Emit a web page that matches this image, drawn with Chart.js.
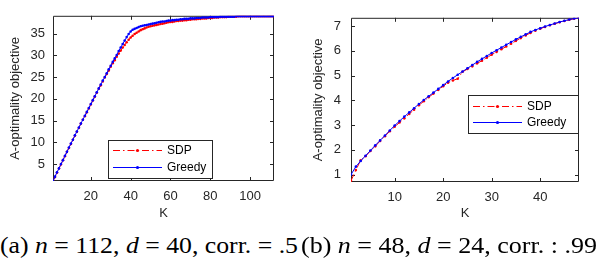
<!DOCTYPE html>
<html>
<head>
<meta charset="utf-8">
<script src="https://cdn.jsdelivr.net/npm/chart.js@4.4.0/dist/chart.umd.min.js"></script>
<style>
body { margin: 0; background: #fff; width: 598px; height: 262px; position: relative; overflow: hidden; }
.pane { position: absolute; top: 0; width: 300px; height: 225px; }
.cap { position: absolute; top: 232px; font-family: "Liberation Serif", "DejaVu Serif", serif; font-size: 24px; white-space: nowrap; color: #000; transform-origin: left top; }
</style>
</head>
<body>
<div class="pane" style="left:0"><canvas id="chartA" width="300" height="225"></canvas></div>
<div class="pane" style="left:298px"><canvas id="chartB" width="300" height="225"></canvas></div>
<div class="cap" id="capA" style="left:0">(a) <i>n</i> = 112, <i>d</i> = 40, corr. = .5</div>
<div class="cap" id="capB" style="left:301px">(b) <i>n</i> = 48, <i>d</i> = 24, corr. : .99</div>
<script>
// (a) n = 112, K = 1..112
const kA = Array.from({length: 112}, (_, i) => i + 1);
const sdpA = [
  1.1, 2.0, 3.0, 4.0, 4.9, 5.9, 6.8, 7.8, 8.7, 9.6,
  10.6, 11.5, 12.4, 13.3, 14.3, 15.2, 16.0, 16.9, 17.8, 18.7,
  19.6, 20.5, 21.4, 22.3, 23.1, 24.0, 24.9, 25.7, 26.5, 27.4,
  28.2, 28.9, 29.7, 30.4, 31.1, 31.8, 32.4, 33.0, 33.6, 34.1,
  34.5, 34.9, 35.2, 35.5, 35.8, 36.0, 36.2, 36.4, 36.6, 36.7,
  36.8, 36.9, 37.0, 37.1, 37.2, 37.3, 37.4, 37.5, 37.6, 37.7,
  37.7, 37.8, 37.9, 37.9, 38.0, 38.0, 38.1, 38.1, 38.2, 38.2,
  38.3, 38.3, 38.3, 38.4, 38.4, 38.5, 38.5, 38.5, 38.6, 38.6,
  38.6, 38.7, 38.7, 38.7, 38.8, 38.8, 38.8, 38.8, 38.9, 38.9,
  38.9, 38.9, 38.9, 39.0, 39.0, 39.0, 39.0, 39.0, 39.0, 39.0,
  39.0, 39.0, 39.0, 39.0, 39.0, 39.0, 39.0, 39.0, 39.0, 39.0,
  39.0, 39.0
];
const greedyA = [
  1.1, 2.1, 3.1, 4.0, 5.0, 5.9, 6.9, 7.8, 8.8, 9.7,
  10.6, 11.6, 12.5, 13.4, 14.3, 15.2, 16.1, 17.0, 17.9, 18.8,
  19.7, 20.6, 21.5, 22.4, 23.3, 24.2, 25.0, 25.9, 26.8, 27.6,
  28.5, 29.3, 30.1, 31.0, 31.8, 32.6, 33.4, 34.2, 34.9, 35.5,
  35.9, 36.1, 36.3, 36.5, 36.7, 36.8, 36.9, 37.0, 37.1, 37.2,
  37.3, 37.4, 37.5, 37.6, 37.7, 37.8, 37.8, 37.9, 38.0, 38.0,
  38.1, 38.1, 38.2, 38.2, 38.3, 38.3, 38.4, 38.4, 38.4, 38.5,
  38.5, 38.5, 38.6, 38.6, 38.6, 38.7, 38.7, 38.7, 38.7, 38.8,
  38.8, 38.8, 38.8, 38.8, 38.9, 38.9, 38.9, 38.9, 38.9, 38.9,
  38.9, 38.9, 39.0, 39.0, 39.0, 39.0, 39.0, 39.0, 39.0, 39.0,
  39.0, 39.0, 39.0, 39.0, 39.0, 39.0, 39.0, 39.0, 39.0, 39.0,
  39.0, 39.0
];
const xTicksA = [20, 40, 60, 80, 100];
const yTicksA = [5, 10, 15, 20, 25, 30, 35];

// (b) n = 48, K = 1..48
const kB = Array.from({length: 48}, (_, i) => i + 1);
const sdpB = [
  0.75, 1.18, 1.58, 1.74, 1.95, 2.14, 2.36, 2.55, 2.75, 2.93,
  3.10, 3.27, 3.45, 3.62, 3.80, 3.96, 4.12, 4.27, 4.42, 4.57,
  4.71, 4.80, 4.87, 5.15, 5.26, 5.37, 5.49, 5.60, 5.72, 5.84,
  5.95, 6.06, 6.17, 6.28, 6.40, 6.51, 6.62, 6.72, 6.81, 6.89,
  6.96, 7.03, 7.09, 7.15, 7.20, 7.25, 7.29, 7.33
];
const greedyB = [
  1.00, 1.32, 1.55, 1.76, 1.97, 2.18, 2.38, 2.58, 2.78, 2.98,
  3.16, 3.34, 3.51, 3.68, 3.85, 4.01, 4.16, 4.31, 4.46, 4.61,
  4.76, 4.90, 5.03, 5.16, 5.29, 5.42, 5.55, 5.67, 5.79, 5.91,
  6.02, 6.13, 6.24, 6.35, 6.46, 6.56, 6.66, 6.76, 6.84, 6.91,
  6.98, 7.04, 7.10, 7.16, 7.21, 7.26, 7.30, 7.33
];
const xTicksB = [10, 20, 30, 40];
const yTicksB = [1, 2, 3, 4, 5, 6, 7];

const seriesNames = ['SDP', 'Greedy'];
const AXIS = '#262626';
const SANS = '"Liberation Sans", Arial, sans-serif';

// box round the plot with inward ticks on all four sides
const boxPlugin = {
  id: 'mBox',
  beforeDatasetsDraw(chart) {
    const {ctx, chartArea: a, scales: {x, y}} = chart;
    ctx.save();
    ctx.strokeStyle = AXIS;
    ctx.lineWidth = 1;
    ctx.beginPath();
    ctx.rect(a.left + 0.5, a.top + 0.5, a.right - a.left - 1, a.bottom - a.top - 1);
    x.ticks.forEach(t => {
      const px = Math.round(x.getPixelForValue(t.value)) + 0.5;
      ctx.moveTo(px, a.bottom); ctx.lineTo(px, a.bottom - 4);
      ctx.moveTo(px, a.top); ctx.lineTo(px, a.top + 4);
    });
    y.ticks.forEach(t => {
      const py = Math.round(y.getPixelForValue(t.value)) + 0.5;
      ctx.moveTo(a.left, py); ctx.lineTo(a.left + 4, py);
      ctx.moveTo(a.right, py); ctx.lineTo(a.right - 4, py);
    });
    ctx.stroke();
    ctx.restore();
  }
};

// legend drawn inside the axes, MATLAB style
const legendPlugin = {
  id: 'insetLegend',
  afterDatasetsDraw(chart, args, opts) {
    const {ctx} = chart;
    const L = opts.left, T = opts.top;
    ctx.save();
    ctx.fillStyle = '#fff';
    ctx.fillRect(L, T, opts.width, opts.height);
    ctx.strokeStyle = AXIS;
    ctx.lineWidth = 1;
    ctx.strokeRect(L + 0.5, T + 0.5, opts.width, opts.height);
    const rows = [T + opts.row1, T + opts.row2];
    chart.data.datasets.forEach(ds => {
      const r = seriesNames.indexOf(ds.label);
      const yy = Math.round(rows[r]) + 0.5;
      ctx.strokeStyle = ds.borderColor;
      ctx.lineWidth = 1;
      ctx.setLineDash(ds.borderDash || []);
      ctx.beginPath();
      ctx.moveTo(L + 5, yy);
      ctx.lineTo(L + 54, yy);
      ctx.stroke();
      ctx.setLineDash([]);
      ctx.fillStyle = ds.borderColor;
      ctx.beginPath();
      ctx.arc(L + 29.5, yy, 1.6, 0, Math.PI * 2);
      ctx.fill();
      ctx.fillStyle = '#000';
      ctx.font = '12px ' + SANS;
      ctx.textBaseline = 'middle';
      ctx.fillText(ds.label, L + 59, yy);
    });
    ctx.restore();
  }
};

function makeChart(id, k, sdp, greedy, xTicks, yTicks, lim) {
  const ctx = document.getElementById(id).getContext('2d');
  return new Chart(ctx, {
    type: 'line',
    data: {
      datasets: [
        {
          label: 'SDP',
          data: k.map((v, i) => ({x: v, y: sdp[i]})),
          borderColor: '#ff0000',
          backgroundColor: '#ff0000',
          borderWidth: 1,
          borderDash: [7, 3, 1.5, 3],
          pointRadius: 1.3,
          pointBorderWidth: 0,
          order: 1
        },
        {
          label: 'Greedy',
          data: k.map((v, i) => ({x: v, y: greedy[i]})),
          borderColor: '#0000ff',
          backgroundColor: '#0000ff',
          borderWidth: 1,
          pointRadius: 1.3,
          pointBorderWidth: 0,
          order: 0
        }
      ]
    },
    options: {
      responsive: false,
      animation: false,
      devicePixelRatio: 1,
      layout: {padding: {left: 0, right: lim.padRight, top: 4, bottom: 0}},
      plugins: {
        legend: {display: false},
        tooltip: {enabled: false},
        insetLegend: lim.legend
      },
      scales: {
        x: {
          type: 'linear',
          min: lim.xmin, max: lim.xmax,
          grid: {display: false, drawTicks: false},
          border: {display: false},
          afterBuildTicks: s => { s.ticks = xTicks.map(v => ({value: v})); },
          afterFit: s => { s.height = lim.xHeight; },
          ticks: {color: AXIS, font: {family: SANS, size: 13}, padding: 8, maxRotation: 0},
          title: {display: true, text: 'K', color: AXIS, font: {family: SANS, size: 13}, padding: {top: 0, bottom: 4}}
        },
        y: {
          type: 'linear',
          min: lim.ymin, max: lim.ymax,
          grid: {display: false, drawTicks: false},
          border: {display: false},
          afterBuildTicks: s => { s.ticks = yTicks.map(v => ({value: v})); },
          afterFit: s => { s.width = 53; },
          ticks: {color: AXIS, font: {family: SANS, size: 13}, padding: lim.yTickPad},
          title: {display: true, text: 'A-optimality objective', color: AXIS, font: {family: SANS, size: 13}, padding: {top: lim.yTitlePad, bottom: 0}}
        }
      }
    },
    plugins: [boxPlugin, legendPlugin]
  });
}

makeChart('chartA', kA, sdpA, greedyA, xTicksA, yTicksA, {
  xmin: 1, xmax: 112, ymin: 1.1, ymax: 39.1,
  padRight: 26, xHeight: 44, yTitlePad: 8, yTickPad: 8,
  legend: {left: 108, top: 140, width: 104, height: 38, row1: 10, row2: 27}
});
makeChart('chartB', kB, sdpB, greedyB, xTicksB, yTicksB, {
  xmin: 1, xmax: 48, ymin: 0.7, ymax: 7.33,
  padRight: 19, xHeight: 43, yTitlePad: 13, yTickPad: 10,
  legend: {left: 170, top: 95, width: 110, height: 38, row1: 11, row2: 27}
});

// stretch the captions to the width they take in the figure
function fitCaption(id, target) {
  const el = document.getElementById(id);
  const w = el.getBoundingClientRect().width;
  el.style.transform = 'scaleX(' + (target / w) + ')';
}
fitCaption('capA', 298);
fitCaption('capB', 296);
</script>
</body>
</html>
